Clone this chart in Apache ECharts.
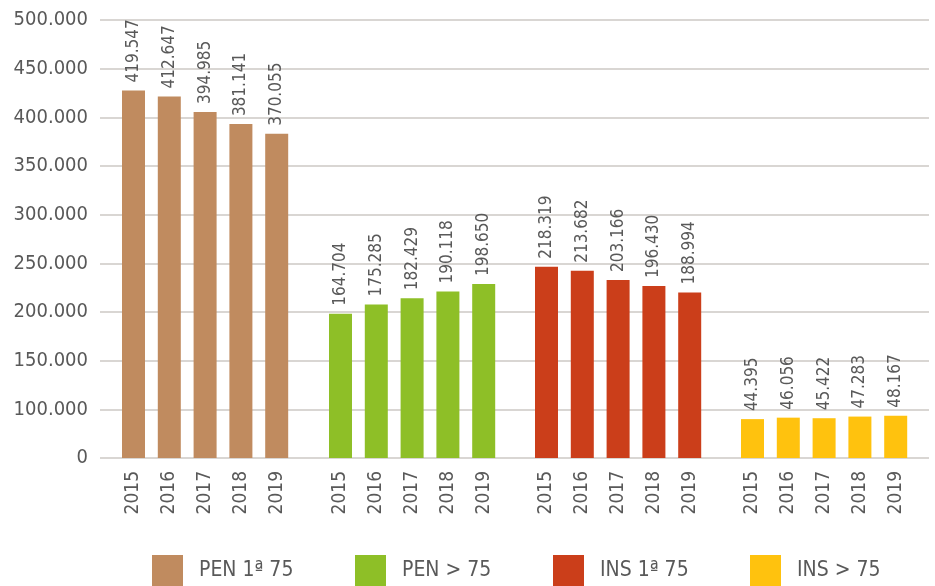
<!DOCTYPE html>
<html>
<head>
<meta charset="utf-8">
<script src="https://cdn.jsdelivr.net/npm/echarts@6/dist/echarts.min.js"></script>
<style>
  html, body { margin: 0; padding: 0; background: #fff; }
  #chart { width: 935px; height: 586px; }
</style>
</head>
<body>
<div id="chart"></div>
<script>
// años de cada grupo
var years = ['2015', '2016', '2017', '2018', '2019'];
// series
var seriesNames = ['PEN 1ª 75', 'PEN > 75', 'INS 1ª 75', 'INS > 75'];
var pen1 = [419547, 412647, 394985, 381141, 370055];
var pen75 = [164704, 175285, 182429, 190118, 198650];
var ins1 = [218319, 213682, 203166, 196430, 188994];
var ins75 = [44395, 46056, 45422, 47283, 48167];
// etiquetas del eje Y (tal como aparecen)
var yTickLabels = ['0', '100.000', '150.000', '200.000', '250.000', '300.000', '350.000', '400.000', '450.000', '500.000'];

var colors = ['#C08B5F', '#8EBF27', '#CB3E1A', '#FFC20E'];
var textColor = '#595959';
var font = "'Liberation Sans Narrow', 'Arial Narrow', 'DejaVu Sans Condensed', sans-serif";
var yMax = 500000;
var yInterval = yMax / (yTickLabels.length - 1);

function miles(v) {
    return String(v).replace(/\B(?=(\d{3})+(?!\d))/g, '.');
}

var allData = [pen1, pen75, ins1, ins75];
var groupLeft = [115.6, 322.6, 528.6, 734.6];
var groupWidth = 179;
var gridTop = 20, gridBottom = 128;

var grids = [{left: 100, right: 6, top: gridTop, bottom: gridBottom}];
var xAxes = [{gridIndex: 0, type: 'category', data: [], show: false}];
var yAxes = [{
    gridIndex: 0,
    type: 'value',
    min: 0,
    max: yMax,
    interval: yInterval,
    axisLine: {show: false},
    axisTick: {show: false},
    splitLine: {lineStyle: {color: '#D9D6D3', width: 2}},
    axisLabel: {
        color: textColor,
        fontFamily: font,
        fontSize: 20,
        margin: 12,
        formatter: function (v) {
            return yTickLabels[Math.round(v / yInterval)];
        }
    }
}];
var series = [];
var legends = [];
var legendLeft = [147, 350, 548, 745];

for (var i = 0; i < 4; i++) {
    grids.push({left: groupLeft[i], width: groupWidth, top: gridTop, bottom: gridBottom});
    xAxes.push({
        gridIndex: i + 1,
        type: 'category',
        data: years,
        axisLine: {show: false},
        axisTick: {show: false},
        axisLabel: {
            rotate: 90,
            color: textColor,
            fontFamily: font,
            fontSize: 19,
            margin: 13
        }
    });
    yAxes.push({gridIndex: i + 1, type: 'value', min: 0, max: yMax, show: false});
    series.push({
        name: seriesNames[i],
        type: 'bar',
        xAxisIndex: i + 1,
        yAxisIndex: i + 1,
        barWidth: 23,
        data: allData[i],
        itemStyle: {color: colors[i]},
        label: {
            show: true,
            position: 'top',
            rotate: 90,
            align: 'left',
            verticalAlign: 'middle',
            distance: 8,
            color: textColor,
            fontFamily: font,
            fontSize: 17,
            formatter: function (p) { return miles(p.value); }
        }
    });
    legends.push({
        data: [seriesNames[i]],
        left: legendLeft[i],
        top: 550,
        itemWidth: 31,
        itemHeight: 31,
        itemGap: 0,
        icon: 'rect',
        textStyle: {color: textColor, fontFamily: font, fontSize: 21, padding: [0, 0, 0, 11]}
    });
}

var chart = echarts.init(document.getElementById('chart'));
chart.setOption({
    animation: false,
    backgroundColor: '#fff',
    grid: grids,
    xAxis: xAxes,
    yAxis: yAxes,
    legend: legends,
    series: series
});
</script>
</body>
</html>
